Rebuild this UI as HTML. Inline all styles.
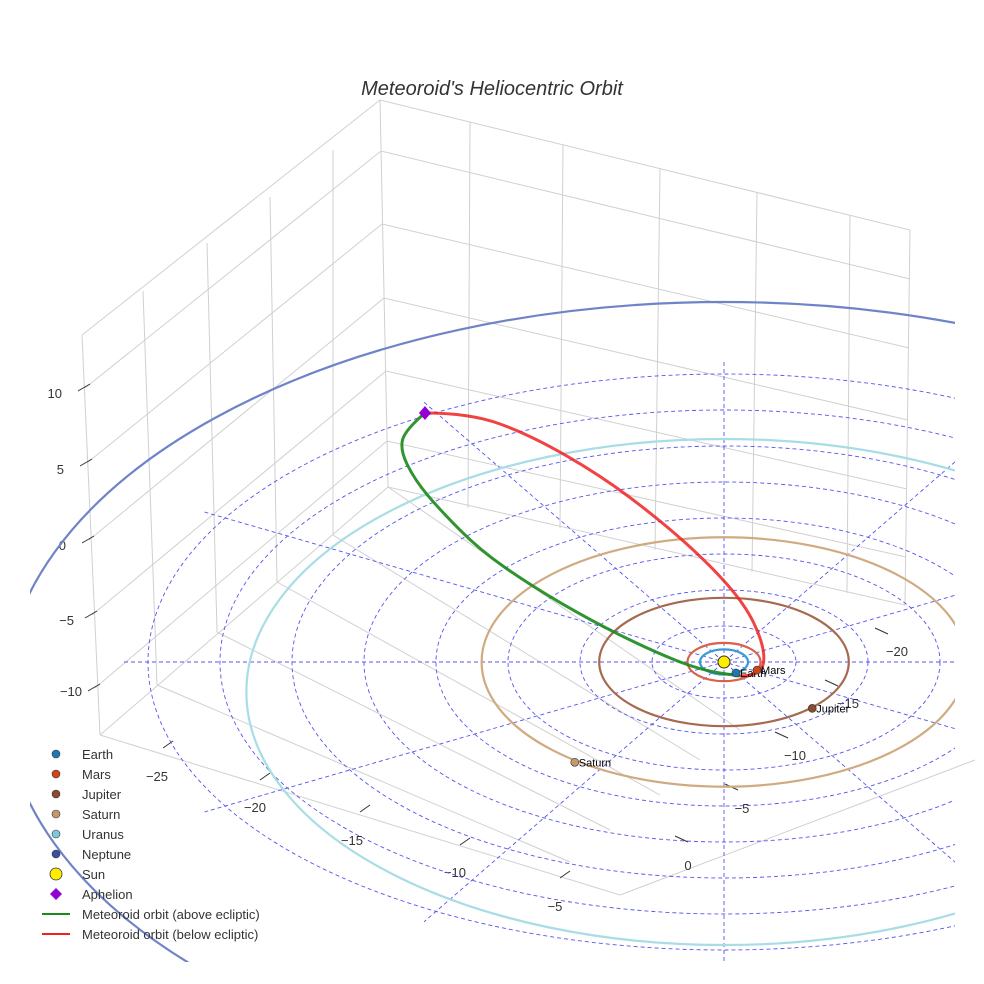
<!DOCTYPE html>
<html><head><meta charset="utf-8"><style>
body{margin:0;background:#fff;overflow:hidden}
svg{display:block;font-family:"Liberation Sans",sans-serif}
</style></head><body>
<svg id="c" width="984" height="984" viewBox="0 0 984 984">
<rect width="984" height="984" fill="#fff"/>
<text x="492" y="95" text-anchor="middle" font-size="20" font-style="italic" fill="#333">Meteoroid's Heliocentric Orbit</text>
<defs><clipPath id="pc"><rect x="30" y="0" width="925" height="962"/></clipPath></defs>
<g id="box" stroke="#d0d0d0" stroke-width="1" fill="none">
<path d="M82,335 L380,100 L910,230"/>
<path d="M82,335 L100,735 M143,291 L157,685 M207,243 L217,632 M270,197 L277,582 M333,150 L333,535 M380,100 L388,487"/>
<path d="M470,122 L468,508 M563,145 L560,528 M660,169 L655,550 M757,192 L752,572 M850,215 L847,593 M910,230 L905,605"/>
<path d="M85,388 L381,151 L910,279 M87,463 L382,224 L909,348 M89,540 L384,298 L908,420 M92,615 L386,371 L907,489 M95,688 L387,441 L906,557"/>
<path d="M100,735 L620,895 L975,760 M100,735 L388,487 L905,605"/>
<path d="M157,685 L570,862 M217,632 L610,830 M277,582 L660,795 M333,535 L700,760 M388,487 L740,730"/>
</g>
<g id="ticks" stroke="#333" stroke-width="1">
<path d="M78,391 L90,384 M80,466 L92,459 M82,543 L94,536 M85,618 L97,611 M88,691 L100,684"/>
<path d="M163,748 L173,741 M260,780 L270,773 M360,812 L370,805 M460,845 L470,838 M560,878 L570,871"/>
<path d="M875,628 L888,634 M825,680 L838,686 M775,732 L788,738 M725,784 L738,790 M675,836 L688,842"/>
</g>
<g font-size="13" fill="#333">
<text x="62" y="398" text-anchor="end">10</text><text x="64" y="474" text-anchor="end">5</text><text x="66" y="550" text-anchor="end">0</text><text x="74" y="625" text-anchor="end">−5</text><text x="82" y="696" text-anchor="end">−10</text>
<text x="157" y="781" text-anchor="middle">−25</text><text x="255" y="812" text-anchor="middle">−20</text><text x="352" y="845" text-anchor="middle">−15</text><text x="455" y="877" text-anchor="middle">−10</text><text x="555" y="911" text-anchor="middle">−5</text>
<text x="897" y="656" text-anchor="middle">−20</text><text x="848" y="708" text-anchor="middle">−15</text><text x="795" y="760" text-anchor="middle">−10</text><text x="742" y="813" text-anchor="middle">−5</text><text x="688" y="870" text-anchor="middle">0</text>
</g>
<g id="plot" clip-path="url(#pc)"></g>
<g id="legend" font-size="13" fill="#333"></g>
</svg>
<script>
const NS="http://www.w3.org/2000/svg";
const planetNames=["Earth","Mars","Jupiter","Saturn","Uranus","Neptune"];
const planetRadiiAU=[1.0,1.52,5.2,10.1,19.9,30.0];
const planetAnglesDeg=[60,25,45,128,200,230];
const planetColors=["#1f77b4","#d2441a","#8c4a2f","#c49a6c","#7fc8d8","#3a4f9f"];
const orbitColors=["#3a9ad9","#d9634a","#a56a4f","#d0aa80","#a8dde6","#6f84c8"];
const gridRingsAU=[3,6,9,12,15,18,21,24];
const gridSpokesDeg=[0,30,60,90,120,150];
const greenX=[-12.46,-13.29,-13.5,-12.88,-11.83,-10.17,-8.08,-5.58,-3.08,-1,0.67];
const greenY=[-19.76,-18.41,-16.83,-14.44,-12.06,-8.89,-6.11,-3.33,-0.95,0.63,1.11];
const redX=[-12.46,-10.58,-8.08,-5.17,-2.67,-0.58,0.88,1.58,1.71,1.29,0.67];
const redY=[-19.76,-19.76,-18.02,-14.84,-11.27,-7.70,-4.52,-1.75,0.24,1.03,1.11];
const CX=724,CY=662,KX=24,KY=12.6,KYR=12;
function sx(x){return CX+KX*x}
function sy(y){return CY+KY*y}
const plot=document.getElementById('plot');
function mk(t,a,p){const e=document.createElementNS(NS,t);for(const k in a)e.setAttribute(k,a[k]);(p||plot).appendChild(e);return e}
gridRingsAU.forEach(r=>{
 const e=mk('ellipse',{cx:CX,cy:CY,rx:KX*r,ry:KYR*r,fill:'none',stroke:'#5555ee','stroke-width':0.9,'stroke-dasharray':'4,3'});
 
 
});
gridSpokesDeg.forEach(d=>{
 const a=d*Math.PI/180,R=25;
 const l=mk('line',{x1:CX-R*KX*Math.cos(a),y1:CY-R*KYR*Math.sin(a),x2:CX+R*KX*Math.cos(a),y2:CY+R*KYR*Math.sin(a),stroke:'#5555ee','stroke-width':0.9,'stroke-dasharray':'4,3'});
 
 
});
planetRadiiAU.forEach((r,i)=>{
 let cx=CX,cy=CY,rx=KX*r,ry=KY*r*(i<2?1:0.98);
 if(i==4){cy=692;ry=253;}
 if(i==5){cy=698;ry=396;}
 const e=mk('ellipse',{cx:cx,cy:cy,rx:rx,ry:ry,fill:'none',stroke:orbitColors[i],'stroke-width':2.2});
 
 
});
function smooth(X,Y){let p='M'+sx(X[0])+','+sy(Y[0]);for(let i=1;i<X.length-1;i++){const mx=(sx(X[i])+sx(X[i+1]))/2,my=(sy(Y[i])+sy(Y[i+1]))/2;p+=' Q'+sx(X[i])+','+sy(Y[i])+' '+mx+','+my}p+=' L'+sx(X[X.length-1])+','+sy(Y[Y.length-1]);return p}
const g=mk('path',{d:smooth(greenX,greenY),fill:'none',stroke:'#1a8a1a','stroke-width':3,opacity:0.9});


const rd=mk('path',{d:smooth(redX,redY),fill:'none',stroke:'#ee2222','stroke-width':3,opacity:0.85});


const sun=mk('circle',{cx:CX,cy:CY,r:6,fill:'#ffee00',stroke:'#333','stroke-width':1});


planetRadiiAU.forEach((r,i)=>{
 if(i>=4)return;
 const a=planetAnglesDeg[i]*Math.PI/180,x=sx(r*Math.cos(a)),y=sy(r*Math.sin(a));
 const c=mk('circle',{cx:x,cy:y,r:4,fill:planetColors[i],stroke:'#333','stroke-width':0.6});
 
 
 const t=mk('text',{x:x+4,y:y+4,'font-size':11,fill:'#000'});t.textContent=planetNames[i];
 
 
});
const ax=sx(greenX[0]),ay=sy(greenY[0]);
const ap=mk('path',{d:`M${ax},${ay-7} L${ax+6},${ay} L${ax},${ay+7} L${ax-6},${ay}Z`,fill:'#9400d3'});


const lg=document.getElementById('legend');
const items=["Earth","Mars","Jupiter","Saturn","Uranus","Neptune","Sun","Aphelion","Meteoroid orbit (above ecliptic)","Meteoroid orbit (below ecliptic)"];
items.forEach((n,i)=>{
 const y=754+i*20;let m;
 if(i<6)m=mk('circle',{cx:56,cy:y,r:4,fill:planetColors[i],stroke:'#333','stroke-width':0.6},lg);
 else if(i==6)m=mk('circle',{cx:56,cy:y,r:6,fill:'#ffee00',stroke:'#333','stroke-width':0.8},lg);
 else if(i==7)m=mk('path',{d:`M56,${y-6} L62,${y} L56,${y+6} L50,${y}Z`,fill:'#9400d3'},lg);
 else m=mk('line',{x1:42,y1:y,x2:70,y2:y,stroke:i==8?'#1a8a1a':'#ee2222','stroke-width':2},lg);
 
 
 const t=mk('text',{x:82,y:y+5},lg);t.textContent=n;
 
 
});
</script>
</body></html>
